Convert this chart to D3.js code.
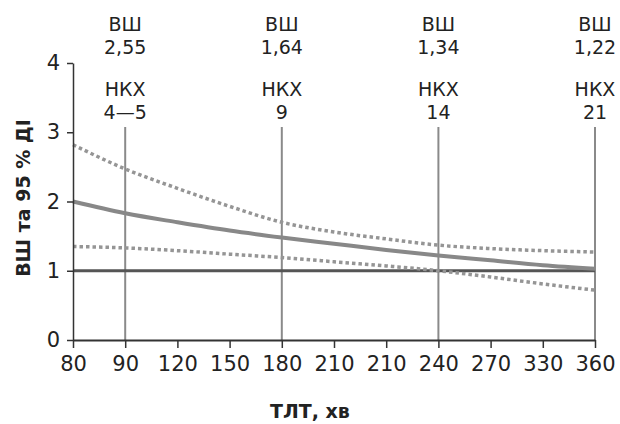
<!DOCTYPE html>
<html><head><meta charset="utf-8">
<script src="https://cdn.jsdelivr.net/npm/d3@7"></script>
<style>
body{margin:0;background:#fff;}
svg text{font-family:"DejaVu Sans",sans-serif;fill:#222;}
</style></head>
<body><svg id="c" width="620" height="424"></svg>
<script>
// Data
const xLabels = ["80","90","120","150","180","210","210","240","270","330","360"];
const orMain  = [2.00,1.83,1.70,1.58,1.48,1.39,1.30,1.22,1.15,1.08,1.03];
const ciUpper = [2.82,2.47,2.19,1.93,1.70,1.56,1.46,1.37,1.32,1.29,1.27];
const ciLower = [1.35,1.33,1.29,1.24,1.19,1.13,1.07,1.00,0.91,0.81,0.72];
const markIdx = [1,4,7,10];
const markOR  = ["2,55","1,64","1,34","1,22"];
const markNNT = ["4—5","9","14","21"];
const yTicks  = [0,1,2,3,4];

const FONT = "DejaVu Sans, sans-serif";
const svg = d3.select("#c");
const x = d3.scalePoint().domain(d3.range(xLabels.length)).range([73,595]);
const y = d3.scaleLinear().domain([0,4]).range([340,63]);

// vertical marker lines
svg.selectAll(".vl").data(markIdx).enter().append("line")
  .attr("x1",d=>x(d)).attr("x2",d=>x(d)).attr("y1",127).attr("y2",y(0))
  .attr("stroke","#8a8a8a").attr("stroke-width",2);

// reference line y=1
svg.append("line").attr("x1",x(0)).attr("x2",x(10)).attr("y1",y(1)).attr("y2",y(1))
  .attr("stroke","#555").attr("stroke-width",3);

const line = d3.line().x((d,i)=>x(i)).y(d=>y(d)).curve(d3.curveMonotoneX);
svg.append("path").attr("d",line(ciUpper)).attr("fill","none")
  .attr("stroke","#959595").attr("stroke-width",3.5).attr("stroke-dasharray","3.5,3");
svg.append("path").attr("d",line(ciLower)).attr("fill","none")
  .attr("stroke","#959595").attr("stroke-width",3.5).attr("stroke-dasharray","3.5,3");
svg.append("path").attr("d",line(orMain)).attr("fill","none")
  .attr("stroke","#888").attr("stroke-width",4);

// axes
const xAxis = d3.axisBottom(x).tickFormat(i=>xLabels[i]).tickSize(8).tickPadding(8).tickSizeOuter(0);
const gx = svg.append("g").attr("transform",`translate(0,${y(0)})`).call(xAxis);
gx.select(".domain").attr("stroke","#333").attr("stroke-width",2);
gx.selectAll(".tick line").attr("stroke","#333").attr("stroke-width",1.5);
gx.selectAll("text").attr("font-size",21).attr("fill","#222").attr("font-family",FONT);

const yAxis = d3.axisLeft(y).tickValues(yTicks).tickFormat(d3.format("d")).tickSize(6).tickPadding(7).tickSizeOuter(0);
const gy = svg.append("g").attr("transform",`translate(${x(0)},0)`).call(yAxis);
gy.select(".domain").attr("stroke","#333").attr("stroke-width",1.5);
gy.selectAll(".tick line").attr("stroke","#333").attr("stroke-width",1.5);
gy.selectAll("text").attr("font-size",21).attr("fill","#222").attr("font-family",FONT);

// annotations
const ann = svg.selectAll(".ann").data(markIdx).enter().append("g");
const fs = 19;
ann.append("text").attr("x",d=>x(d)).attr("y",31).attr("text-anchor","middle").attr("font-size",fs).text("ВШ");
ann.append("text").attr("x",d=>x(d)).attr("y",54).attr("text-anchor","middle").attr("font-size",fs).text((d,i)=>markOR[i]);
ann.append("text").attr("x",d=>x(d)).attr("y",96).attr("text-anchor","middle").attr("font-size",fs).text("НКХ");
ann.append("text").attr("x",d=>x(d)).attr("y",119).attr("text-anchor","middle").attr("font-size",fs).text((d,i)=>markNNT[i]);

// titles
svg.append("text").attr("x",310).attr("y",418).attr("text-anchor","middle")
  .attr("font-size",19).attr("font-weight","bold").text("ТЛТ, хв");
svg.append("text").attr("transform","translate(30,198) rotate(-90)").attr("text-anchor","middle")
  .attr("font-size",19).attr("font-weight","bold").text("ВШ та 95 % ДІ");
</script></body></html>
